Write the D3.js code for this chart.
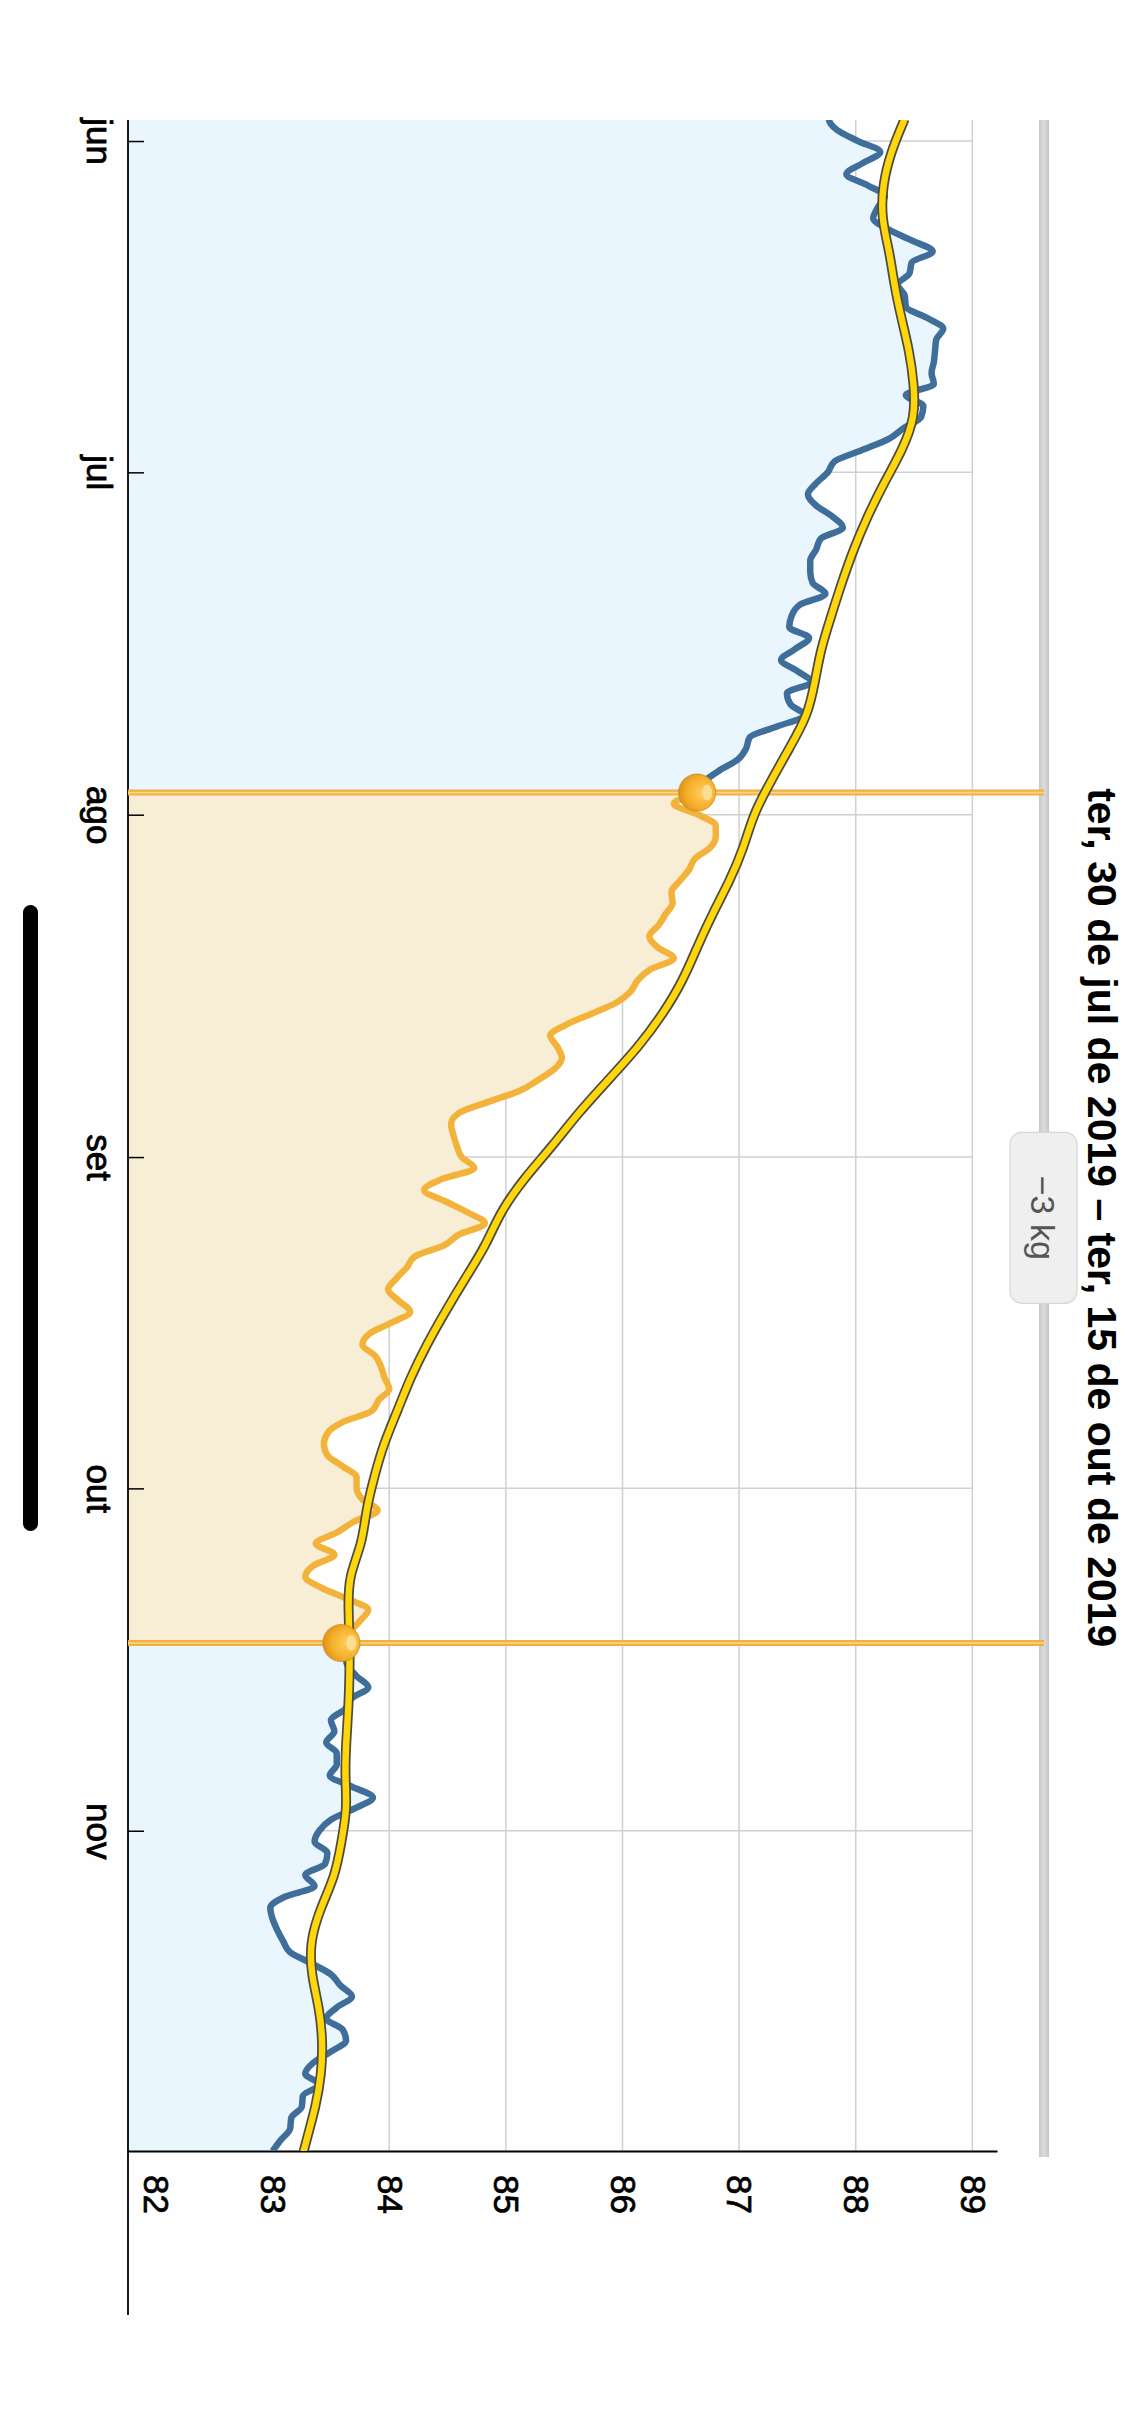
<!DOCTYPE html>
<html>
<head>
<meta charset="utf-8">
<script src="https://cdn.jsdelivr.net/npm/d3@7"></script>
<style>
  body { margin: 0; background: #fefefe; }
  svg { display: block; font-family: 'Liberation Sans', Arial, sans-serif; }
</style>
</head>
<body>
<div id="chart"></div>
<script>
// daily weight readings (kg), one array per month
let weightsMai = [87.95, 87.77, 87.84]  // 29-31 mai
let weightsJun = [88.02, 88.21, 88.06, 87.92, 88.1, 88.25, 88.19, 88.15, 88.28, 88.48,
    88.66, 88.48, 88.46, 88.36, 88.42, 88.43, 88.61, 88.75, 88.69, 88.68,
    88.67, 88.65, 88.67, 88.43, 88.58, 88.56, 88.41, 88.28, 88.05, 87.82]
let weightsJul = [87.76, 87.66, 87.59, 87.66, 87.8, 87.89, 87.7, 87.66, 87.61, 87.61,
    87.63, 87.74, 87.52, 87.45, 87.43, 87.6, 87.48, 87.36, 87.5, 87.62,
    87.41, 87.44, 87.56, 87.33, 87.09, 87.06, 86.99, 86.83, 86.7, 86.64, 86.44]
let weightsAgo = [86.65, 86.8, 86.8, 86.75, 86.62, 86.57, 86.49, 86.42, 86.43, 86.37,
    86.31, 86.23, 86.3, 86.44, 86.24, 86.13, 86.07, 85.95, 85.74, 85.52,
    85.38, 85.44, 85.48, 85.42, 85.28, 85.12, 84.85, 84.6, 84.53, 84.55, 84.58]
let weightsSet = [84.62, 84.73, 84.45, 84.3, 84.48, 84.67, 84.82, 84.6, 84.47, 84.22,
    84.15, 84.06, 83.99, 84.08, 84.18, 84.02, 83.83, 83.77, 83.88, 83.93,
    83.96, 84.0, 83.91, 83.85, 83.6, 83.47, 83.44, 83.47, 83.6, 83.72]
let weightsOut = [83.72, 83.77, 83.9, 83.7, 83.55, 83.37, 83.53, 83.35, 83.28, 83.42,
    83.64, 83.82, 83.75, 83.66, 83.59, 83.62, 83.64, 83.72, 83.82, 83.68,
    83.62, 83.5, 83.53, 83.46, 83.55, 83.55, 83.49, 83.68, 83.86, 83.7, 83.5]
let weightsNov = [83.4, 83.36, 83.47, 83.45, 83.28, 83.36, 83.1, 82.98, 83.0, 83.04,
    83.09, 83.15, 83.33, 83.5, 83.58, 83.68, 83.55, 83.46, 83.6, 83.63,
    83.5, 83.35, 83.28, 83.4, 83.26, 83.25, 83.16, 83.15, 83.07, 83.0]

// trend line, one reading every 3 days from 30 mai
let trendStart = new Date(2019, 4, 30)
let trendStep = 3
let trendValues = [88.42, 88.3, 88.23, 88.22, 88.29, 88.33, 88.39, 88.46, 88.5, 88.51,
    88.4, 88.24, 88.1, 87.98, 87.88, 87.79, 87.7, 87.65, 87.59, 87.43,
    87.27, 87.12, 87.04, 86.92, 86.77, 86.64, 86.52, 86.35, 86.14, 85.88,
    85.62, 85.4, 85.15, 84.95, 84.83, 84.65, 84.48, 84.32, 84.18, 84.07,
    83.95, 83.87, 83.8, 83.77, 83.65, 83.65, 83.66, 83.66, 83.65, 83.63,
    83.62, 83.64, 83.59, 83.54, 83.41, 83.32, 83.33, 83.4, 83.43, 83.42,
    83.37, 83.29, 83.22]

let monthTicks = [new Date(2019, 5, 1), new Date(2019, 6, 1), new Date(2019, 7, 1),
    new Date(2019, 8, 1), new Date(2019, 9, 1), new Date(2019, 10, 1)]
let monthLabels = ['jun', 'jul', 'ago', 'set', 'out', 'nov']
let weightTicks = [82, 83, 84, 85, 86, 87, 88, 89]

let rangeStart = new Date(2019, 6, 30)
let rangeEnd = new Date(2019, 9, 15)
let title = 'ter, 30 de jul de 2019 – ter, 15 de out de 2019'
let badgeText = '−3 kg'

let W = 1125, H = 2436

let byDay = (start, values) => values.map((v, i) => ({ date: d3.timeDay.offset(start, i), value: v }))
let weights = [].concat(
    byDay(new Date(2019, 4, 29), weightsMai),
    byDay(new Date(2019, 5, 1), weightsJun),
    byDay(new Date(2019, 6, 1), weightsJul),
    byDay(new Date(2019, 7, 1), weightsAgo),
    byDay(new Date(2019, 8, 1), weightsSet),
    byDay(new Date(2019, 9, 1), weightsOut),
    byDay(new Date(2019, 10, 1), weightsNov))
let trend = trendValues.map((v, i) => ({ date: d3.timeDay.offset(trendStart, i * trendStep), value: v }))

let svg = d3.select('#chart')
    .append('svg')
    .attr('width', W)
    .attr('height', H)

svg.append('rect')
    .attr('width', W)
    .attr('height', H)
    .attr('fill', '#fefefe')

// the screenshot is a landscape chart turned a quarter turn clockwise
let g = svg.append('g')
    .attr('transform', `translate(${W},0) rotate(90)`)

let x = d3.scaleTime()
    .domain([new Date(2019, 4, 30, 2, 18), new Date(2019, 10, 30)])
    .range([120, 2151])

let y = d3.scaleLinear()
    .domain([81.76, 89.22])
    .range([997, 127])

let [x0, x1] = x.range()
let [yb, yt] = y.range()
let hx0 = x(rangeStart), hx1 = x(rangeEnd)
let mid = (hx0 + hx1) / 2

let defs = svg.append('defs')
defs.append('clipPath').attr('id', 'plot')
    .append('rect').attr('x', x0).attr('y', yt - 40).attr('width', x1 - x0).attr('height', yb - yt + 40)
defs.append('clipPath').attr('id', 'inside')
    .append('rect').attr('x', hx0).attr('y', yt - 40).attr('width', hx1 - hx0).attr('height', yb - yt + 40)
let outside = defs.append('clipPath').attr('id', 'outside')
outside.append('rect').attr('x', x0).attr('y', yt - 40).attr('width', hx0 - x0).attr('height', yb - yt + 40)
outside.append('rect').attr('x', hx1).attr('y', yt - 40).attr('width', x1 - hx1).attr('height', yb - yt + 40)

let track = defs.append('linearGradient').attr('id', 'track')
    .attr('x1', 0).attr('y1', 0).attr('x2', 0).attr('y2', 1)
track.append('stop').attr('offset', 0).attr('stop-color', '#c4c4c4')
track.append('stop').attr('offset', 0.5).attr('stop-color', '#dcdcdc')
track.append('stop').attr('offset', 1).attr('stop-color', '#c8c8c8')

let ball = defs.append('radialGradient').attr('id', 'ball')
    .attr('cx', '50%').attr('cy', '35%').attr('r', '65%')
ball.append('stop').attr('offset', 0).attr('stop-color', '#ffcf5c')
ball.append('stop').attr('offset', 0.65).attr('stop-color', '#f5ae2a')
ball.append('stop').attr('offset', 1).attr('stop-color', '#df921a')

// range slider track
g.append('rect')
    .attr('x', x0)
    .attr('y', 76)
    .attr('width', 2157 - x0)
    .attr('height', 10)
    .attr('fill', 'url(#track)')

// grid
g.append('g')
    .selectAll('line')
    .data(weightTicks)
    .join('line')
    .attr('x1', x0)
    .attr('x2', x1)
    .attr('y1', d => y(d))
    .attr('y2', d => y(d))
    .attr('stroke', '#d0d0d0')
    .attr('stroke-width', 1.5)

g.append('g')
    .selectAll('line')
    .data(monthTicks)
    .join('line')
    .attr('x1', d => x(d))
    .attr('x2', d => x(d))
    .attr('y1', yb)
    .attr('y2', y(89))
    .attr('stroke', '#d0d0d0')
    .attr('stroke-width', 1.5)

// fills under the weight curve
let area = d3.area()
    .x(d => x(d.date))
    .y0(yb)
    .y1(d => y(d.value))
    .curve(d3.curveMonotoneX)

g.append('path')
    .datum(weights)
    .attr('d', area)
    .attr('fill', '#eaf6fe')
    .attr('clip-path', 'url(#plot)')

g.append('path')
    .datum(weights)
    .attr('d', area)
    .attr('fill', '#f8eed6')
    .attr('clip-path', 'url(#inside)')

// axes
let xAxis = d3.axisBottom(x)
    .tickValues(monthTicks)
    .tickFormat((d, i) => monthLabels[i])
    .tickSizeInner(-16)
    .tickSizeOuter(0)
    .tickPadding(16)

g.append('g')
    .attr('transform', `translate(0,${yb})`)
    .call(xAxis)
    .call(a => a.select('.domain').remove())
    .call(a => a.selectAll('line').attr('stroke-width', 1.5))
    .call(a => a.selectAll('text').attr('stroke', '#000').attr('stroke-width', 0.8))
    .attr('font-size', 35)
    .attr('font-family', null)

g.append('line')
    .attr('x1', x0)
    .attr('x2', 2315)
    .attr('y1', yb)
    .attr('y2', yb)
    .attr('stroke', '#000')
    .attr('stroke-width', 1.8)

let yAxis = d3.axisRight(y)
    .tickValues(weightTicks)
    .tickSize(0)
    .tickPadding(24)

g.append('g')
    .attr('transform', `translate(${x1},0)`)
    .call(yAxis)
    .call(a => a.select('.domain').attr('stroke-width', 1.8))
    .call(a => a.selectAll('text').attr('stroke', '#000').attr('stroke-width', 0.7))
    .attr('font-size', 35)
    .attr('font-family', null)

// weight curve: blue outside the range, orange inside
let line = d3.line()
    .x(d => x(d.date))
    .y(d => y(d.value))
    .curve(d3.curveMonotoneX)

g.append('path')
    .datum(weights)
    .attr('d', line)
    .attr('fill', 'none')
    .attr('stroke', '#3e6e99')
    .attr('stroke-width', 6.5)
    .attr('stroke-linejoin', 'round')
    .attr('clip-path', 'url(#outside)')

g.append('path')
    .datum(weights)
    .attr('d', line)
    .attr('fill', 'none')
    .attr('stroke', '#f3b33a')
    .attr('stroke-width', 6.5)
    .attr('stroke-linejoin', 'round')
    .attr('clip-path', 'url(#inside)')

// range markers
let marks = g.append('g')
    .selectAll('g')
    .data([rangeStart, rangeEnd])
    .join('g')
marks.append('line')
    .attr('x1', d => x(d))
    .attr('x2', d => x(d))
    .attr('y1', yb)
    .attr('y2', 81)
    .attr('stroke', '#f1b13e')
    .attr('stroke-width', 6)
marks.append('line')
    .attr('x1', d => x(d))
    .attr('x2', d => x(d))
    .attr('y1', yb)
    .attr('y2', 81)
    .attr('stroke', '#fcd68a')
    .attr('stroke-width', 1.6)

// trend line
let trendLine = d3.line()
    .x(d => x(d.date))
    .y(d => y(d.value))
    .curve(d3.curveBasis)

g.append('path')
    .datum(trend)
    .attr('d', trendLine)
    .attr('fill', 'none')
    .attr('stroke', '#4e4c40')
    .attr('stroke-width', 10)
    .attr('clip-path', 'url(#plot)')

g.append('path')
    .datum(trend)
    .attr('d', trendLine)
    .attr('fill', 'none')
    .attr('stroke', '#ffd60a')
    .attr('stroke-width', 6.5)
    .attr('clip-path', 'url(#plot)')

// dots on the curve at both range ends
let ends = [rangeStart, rangeEnd].map(d => weights.find(w => +w.date === +d))
let dots = g.append('g')
    .selectAll('g')
    .data(ends)
    .join('g')
    .attr('transform', d => `translate(${x(d.date)},${y(d.value)})`)
dots.append('circle')
    .attr('r', 18.5)
    .attr('fill', 'url(#ball)')
    .attr('stroke', '#c98c24')
    .attr('stroke-opacity', 0.7)
    .attr('stroke-width', 1.2)
dots.append('ellipse')
    .attr('cy', -10)
    .attr('rx', 8)
    .attr('ry', 5)
    .attr('fill', '#fde2a0')
    .attr('opacity', 0.85)

// change badge
g.append('rect')
    .attr('x', mid - 85.5)
    .attr('y', 48)
    .attr('width', 171)
    .attr('height', 67)
    .attr('rx', 12)
    .attr('fill', '#efefef')
    .attr('stroke', '#d6d6d6')
    .attr('stroke-width', 1.2)

g.append('text')
    .attr('x', mid)
    .attr('y', 82)
    .attr('text-anchor', 'middle')
    .attr('dominant-baseline', 'central')
    .attr('font-size', 34)
    .attr('fill', '#555')
    .text(badgeText)

g.append('text')
    .attr('x', mid)
    .attr('y', 37)
    .attr('text-anchor', 'middle')
    .attr('font-size', 41)
    .attr('font-weight', 'bold')
    .attr('fill', '#000')
    .text(title)

// home indicator
g.append('rect')
    .attr('x', 2436 / 2 - 313)
    .attr('y', 1087)
    .attr('width', 626)
    .attr('height', 15)
    .attr('rx', 7.5)
    .attr('fill', '#000')
</script>
</body>
</html>
